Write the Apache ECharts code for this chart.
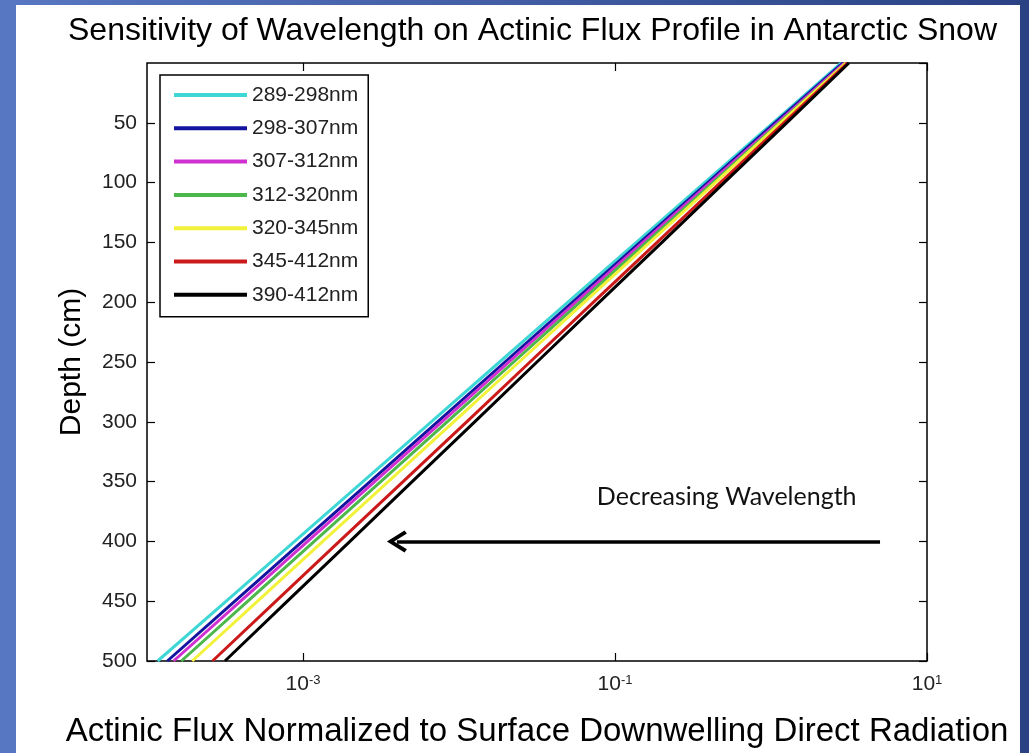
<!DOCTYPE html>
<html>
<head>
<meta charset="utf-8">
<script src="https://cdn.jsdelivr.net/npm/echarts@6/dist/echarts.min.js"></script>
<style>
  html, body { margin: 0; padding: 0; width: 1029px; height: 753px; overflow: hidden;
    background: linear-gradient(to right, #5877c2, #2a4284); }
  #chart { position: absolute; left: 16px; top: 5px; width: 1004px; height: 748px; background: #fff; }
</style>
</head>
<body>
<div id="chart"></div>
<script>
// depth (cm) at which each profile was read
const depths = [0, 50, 100, 150, 200, 250, 300, 350, 400, 450, 500]

// actinic flux / surface direct radiation
const flux289 = [2.82, 1.03, 0.375, 0.137, 0.0499, 0.0182, 0.00664, 0.00242, 0.000883, 0.000322, 0.000117]
const flux298 = [2.88, 1.06, 0.393, 0.145, 0.0535, 0.0197, 0.00728, 0.00269, 0.000991, 0.000366, 0.000135]
const flux307 = [2.95, 1.10, 0.407, 0.151, 0.0562, 0.0209, 0.00776, 0.00288, 0.00107, 0.000398, 0.000148]
const flux312 = [3.02, 1.13, 0.425, 0.159, 0.0597, 0.0224, 0.00839, 0.00315, 0.00118, 0.000443, 0.000166]
const flux320 = [3.02, 1.15, 0.439, 0.167, 0.0637, 0.0243, 0.00925, 0.00352, 0.00134, 0.000512, 0.000195]
const flux345 = [3.09, 1.21, 0.474, 0.186, 0.0728, 0.0285, 0.0112, 0.00438, 0.00171, 0.000671, 0.000263]
const flux390 = [3.16, 1.26, 0.501, 0.200, 0.0794, 0.0316, 0.0126, 0.00501, 0.00200, 0.000794, 0.000316]

const bandNames = ['289-298nm', '298-307nm', '307-312nm', '312-320nm', '320-345nm', '345-412nm', '390-412nm']
const bandColors = ['#3fd6d6', '#1414a0', '#d030d0', '#4cb84c', '#f2f23a', '#cc1a1a', '#000000']
const bandFlux = [flux289, flux298, flux307, flux312, flux320, flux345, flux390]

const xTicks = [0.001, 0.1, 10]

// annotation arrow: from tail to head at 400 cm
const arrowDepth = 400
const arrowFrom = 5.0
const arrowTo = 0.004
const noteText = 'Decreasing Wavelength'
const notePos = [0.52, 363]

const font = '"Liberation Sans", Arial, sans-serif'

const chart = echarts.init(document.getElementById('chart'))

const tickStyle = { inside: true, length: 8, lineStyle: { color: '#000', width: 1.2 } }
const noLine = { show: false, onZero: false }

const series = bandNames.map((name, i) => ({
  name,
  type: 'line',
  showSymbol: false,
  color: bandColors[i],
  lineStyle: { width: 3, color: bandColors[i] },
  data: bandFlux[i].map((v, k) => [v, depths[k]]),
  animation: false
}))

// arrow and note ride on the last profile
series[6].markLine = {
  silent: true,
  animation: false,
  symbol: ['none', 'path://M50,0 L100,88 L86,100 L50,36 L14,100 L0,88 Z'],
  symbolSize: [22, 20],
  label: { show: false },
  lineStyle: { color: '#000', width: 3.5, type: 'solid' },
  data: [[{ coord: [arrowFrom, arrowDepth] }, { coord: [arrowTo, arrowDepth] }]]
}
series[6].markPoint = {
  silent: true,
  animation: false,
  symbol: 'circle',
  symbolSize: 0,
  itemStyle: { color: 'transparent' },
  label: {
    show: true, position: 'inside', formatter: noteText,
    fontFamily: 'Lato, "Open Sans", sans-serif', fontSize: 25, color: '#111'
  },
  data: [{ coord: notePos }]
}

chart.setOption({
  title: {
    text: 'Sensitivity of Wavelength on Actinic Flux Profile in Antarctic Snow',
    left: 52,
    top: 10,
    padding: 0,
    textStyle: { fontFamily: font, fontSize: 32, fontWeight: 'normal', color: '#000' }
  },
  legend: {
    data: bandNames.map((name) => ({ name, icon: 'rect' })),
    orient: 'vertical',
    left: 144,
    top: 70,
    itemWidth: 73,
    itemHeight: 4,
    itemGap: 11.3,
    padding: [9, 10, 11, 14],
    borderColor: '#000',
    borderWidth: 1.5,
    backgroundColor: '#fff',
    textStyle: { fontFamily: font, fontSize: 21, lineHeight: 22, color: '#222' }
  },
  grid: {
    left: 131, right: 93, top: 58, bottom: 83,
    show: true, borderColor: '#000', borderWidth: 1.5, backgroundColor: '#fff'
  },
  xAxis: [
    {
      type: 'log', logBase: 10, min: 0.0001, max: 10, position: 'bottom',
      name: 'Actinic Flux Normalized to Surface Downwelling Direct Radiation',
      nameLocation: 'middle', nameGap: 54,
      nameTextStyle: { fontFamily: font, fontSize: 33, color: '#000' },
      axisLine: noLine,
      axisTick: { ...tickStyle, customValues: xTicks },
      axisLabel: {
        customValues: xTicks,
        margin: 13,
        formatter: (v) => '{b|10}{s|' + Math.round(Math.log10(v)) + '}',
        rich: {
          b: { fontSize: 21, fontFamily: font, color: '#222', verticalAlign: 'bottom', lineHeight: 21, padding: [7, 0, 0, 0] },
          s: { fontSize: 13, fontFamily: font, color: '#222', verticalAlign: 'top', lineHeight: 13 }
        }
      },
      splitLine: { show: false },
      minorTick: { show: false }
    },
    {
      type: 'log', logBase: 10, min: 0.0001, max: 10, position: 'top',
      axisLine: noLine,
      axisTick: { ...tickStyle, customValues: xTicks },
      axisLabel: { show: false, customValues: xTicks },
      splitLine: { show: false }
    }
  ],
  yAxis: [
    {
      type: 'value', inverse: true, min: 0, max: 500, interval: 50, position: 'left',
      name: 'Depth (cm)', nameLocation: 'middle', nameGap: 60,
      nameTextStyle: { fontFamily: font, fontSize: 30, color: '#000' },
      axisLine: noLine,
      axisTick: tickStyle,
      axisLabel: {
        showMinLabel: false,
        formatter: (v) => (v === 0 ? '' : String(v)),
        fontFamily: font, fontSize: 21, color: '#222', margin: 10
      },
      splitLine: { show: false }
    },
    {
      type: 'value', inverse: true, min: 0, max: 500, interval: 50, position: 'right',
      axisLine: noLine,
      axisTick: tickStyle,
      axisLabel: { show: false },
      splitLine: { show: false }
    }
  ],
  series
})
</script>
</body>
</html>
